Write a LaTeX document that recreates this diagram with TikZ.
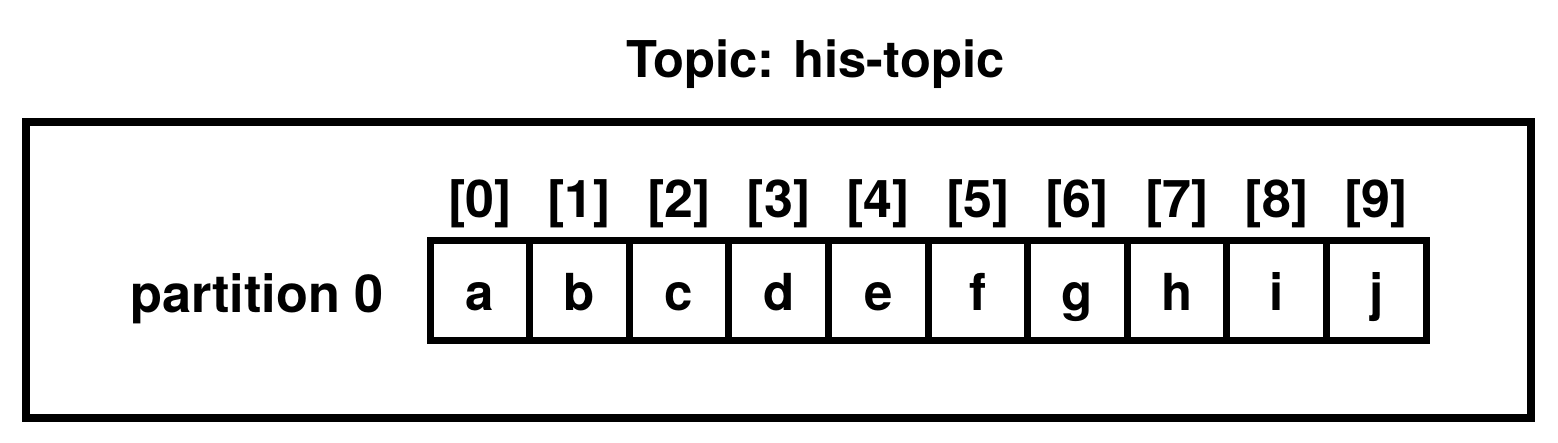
\documentclass[tikz,border=0pt]{standalone}
\usepackage{fontspec}
\setmainfont{TeX Gyre Heros}
\begin{document}
\begin{tikzpicture}[x=1pt,y=1pt,
  txt/.style={font=\fontsize{50}{60}\selectfont\bfseries, inner sep=0pt},
  cellbox/.style={draw, line width=7pt, minimum width=99.6pt, minimum height=100pt,
    inner sep=0pt, text height=40pt, text depth=0pt, font=\fontsize{51}{60}\selectfont\bfseries},
  outerbox/.style={draw, line width=7.5pt}]
\useasboundingbox (0,0) rectangle (1558,442);
\node[outerbox, minimum width=1505pt, minimum height=296pt, inner sep=0pt] (topic) at (778.5,172) {};
\node[txt, font=\fontsize{50.7}{60}\selectfont\bfseries, anchor=base] (title) at (815.5,364) {Topic: his-topic};
\node[txt, font=\fontsize{52.3}{60}\selectfont\bfseries, anchor=base] (part) at (257,129) {partition 0};
\foreach \l [count=\i from 0] in {a,b,c,d,e,f,g,h,i,j} {
  \pgfmathsetmacro{\cx}{430+99.6*\i+49.8}
  \node[cellbox] (c\i) at (\cx,151) {\l};
  \node[txt, font=\fontsize{52}{60}\selectfont\bfseries, anchor=base] (idx\i) at (\cx,224) {[\i]};
}
\end{tikzpicture}
\end{document}
